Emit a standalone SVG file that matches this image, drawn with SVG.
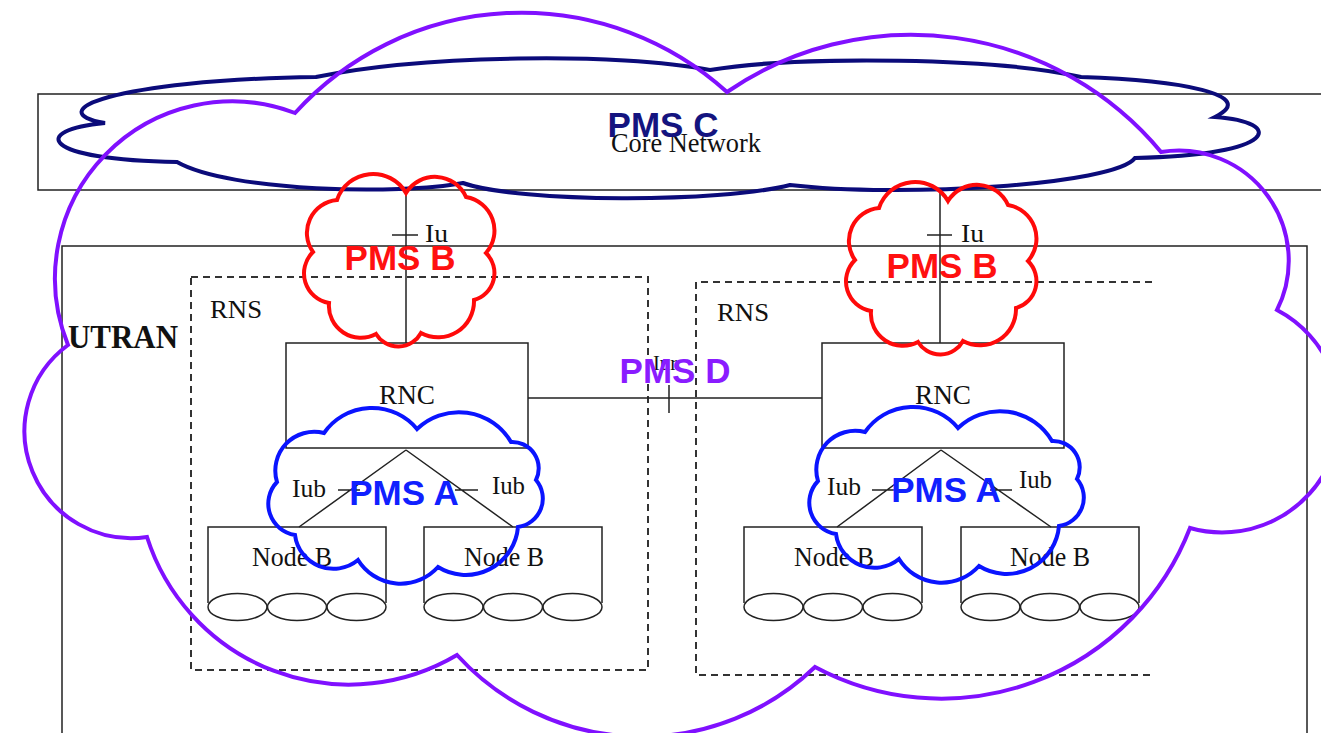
<svg xmlns="http://www.w3.org/2000/svg" width="1321" height="733" viewBox="0 0 1321 733">
<style>
.ln{fill:none;stroke:#222;stroke-width:1.5}
.dash{fill:none;stroke:#333;stroke-width:2;stroke-dasharray:7 5}
.lbl{font-family:"Liberation Serif","Times New Roman",serif;fill:#111}
.pms{font-family:"Liberation Sans",Arial,sans-serif;font-weight:bold;font-size:35px;text-anchor:middle}
.cloud{fill:none;stroke-width:4;stroke-linejoin:miter}
</style>
<defs>
<g id="nodeb">
<path class="ln" d="M0,76 V0 H178 V76"/>
<ellipse class="ln" cx="29.5" cy="80" rx="29.5" ry="13.5"/>
<ellipse class="ln" cx="89" cy="80" rx="29.5" ry="13.5"/>
<ellipse class="ln" cx="148.5" cy="80" rx="29.5" ry="13.5"/>
</g>
<path id="redcloud" class="cloud" d="M406,193 A34 34 0 0 1 466,197 A34 34 0 0 1 486,253 A28 28 0 0 1 474,300 A36 36 0 0 1 421,333 A26 26 0 0 1 376,334 A32 32 0 0 1 329,303 A30 30 0 0 1 313,252 A33 33 0 0 1 337,200 A38 38 0 0 1 406,193 Z"/>
<path id="bluecloud" class="cloud" d="M324,433 A58.5 58.5 0 0 1 417,429 A60.5 60.5 0 0 1 511,442 A26.4 26.4 0 0 1 536,480 A28.7 28.7 0 0 1 518,527 A52.5 52.5 0 0 1 438,567 A50.3 50.3 0 0 1 358,560 A38.7 38.7 0 0 1 295,535 A31.6 31.6 0 0 1 277,482 A38.9 38.9 0 0 1 324,433 Z"/>
</defs>

<g id="core-network">
<rect class="ln" x="38" y="94" width="1300" height="96"/>
<text class="lbl" x="686" y="152" font-size="28" text-anchor="middle" textLength="150" lengthAdjust="spacingAndGlyphs">Core Network</text>
</g>

<g id="utran">
<rect class="ln" x="62" y="246" width="1245" height="500"/>
<text class="lbl" x="68" y="348" font-size="33" font-weight="bold" textLength="110" lengthAdjust="spacingAndGlyphs">UTRAN</text>
</g>

<g id="rns-left">
<rect class="dash" x="191" y="277" width="457" height="393"/>
<text class="lbl" x="210" y="318" font-size="25" textLength="52" lengthAdjust="spacingAndGlyphs">RNS</text>
</g>
<g id="rns-right">
<path class="dash" d="M1152,282 H696 V675 H1152"/>
<text class="lbl" x="717" y="321" font-size="25" textLength="52" lengthAdjust="spacingAndGlyphs">RNS</text>
</g>

<g id="rnc-left">
<rect class="ln" x="286" y="343" width="242" height="105"/>
<text class="lbl" x="407" y="404" font-size="28" text-anchor="middle" textLength="56" lengthAdjust="spacingAndGlyphs">RNC</text>
</g>
<g id="rnc-right">
<rect class="ln" x="822" y="343" width="242" height="105"/>
<text class="lbl" x="943" y="404" font-size="28" text-anchor="middle" textLength="56" lengthAdjust="spacingAndGlyphs">RNC</text>
</g>

<g id="nodeb-1">
<use href="#nodeb" x="208" y="527"/>
<text class="lbl" x="292" y="566" font-size="27" text-anchor="middle" textLength="80" lengthAdjust="spacingAndGlyphs">Node B</text>
</g>
<g id="nodeb-2">
<use href="#nodeb" x="424" y="527"/>
<text class="lbl" x="504" y="566" font-size="27" text-anchor="middle" textLength="80" lengthAdjust="spacingAndGlyphs">Node B</text>
</g>
<g id="nodeb-3">
<use href="#nodeb" x="744" y="527"/>
<text class="lbl" x="834" y="566" font-size="27" text-anchor="middle" textLength="80" lengthAdjust="spacingAndGlyphs">Node B</text>
</g>
<g id="nodeb-4">
<use href="#nodeb" x="961" y="527"/>
<text class="lbl" x="1050" y="566" font-size="27" text-anchor="middle" textLength="80" lengthAdjust="spacingAndGlyphs">Node B</text>
</g>

<g id="connectors">
<path class="ln" d="M406,190 V343 M392,235 H418"/>
<path class="ln" d="M940,190 V343 M927,235 H952"/>
<path class="ln" d="M528,398 H822 M669,385 V413"/>
<path class="ln" d="M406,450 L299,527 M406,450 L513,527 M338,490 H360 M455,490 H478"/>
<path class="ln" d="M941,450 L837,527 M941,450 L1051,527 M872,490 H894 M990,490 H1012"/>
<text class="lbl" x="425" y="242" font-size="25" textLength="23" lengthAdjust="spacingAndGlyphs">Iu</text>
<text class="lbl" x="961" y="242" font-size="25" textLength="23" lengthAdjust="spacingAndGlyphs">Iu</text>
<text class="lbl" x="653" y="370" font-size="21" textLength="24" lengthAdjust="spacingAndGlyphs">Iur</text>
<text class="lbl" x="292" y="497" font-size="25" textLength="34" lengthAdjust="spacingAndGlyphs">Iub</text>
<text class="lbl" x="492" y="494" font-size="25" textLength="33" lengthAdjust="spacingAndGlyphs">Iub</text>
<text class="lbl" x="827" y="495" font-size="25" textLength="34" lengthAdjust="spacingAndGlyphs">Iub</text>
<text class="lbl" x="1019" y="488" font-size="25" textLength="33" lengthAdjust="spacingAndGlyphs">Iub</text>
</g>

<g id="pms-c">
<path class="cloud" stroke="#0b0b7a" d="M105,123 C40,112 110,80 316,77 C420,55 620,52 710,70 C800,55 1000,58 1081,77 C1180,80 1260,95 1215,117 C1285,122 1280,155 1135,158 C1115,185 900,198 790,185 C720,203 520,203 463,183 C400,195 230,192 177,162 C40,160 30,130 105,123 Z"/>
<text class="pms" x="663" y="137" fill="#14147f">PMS C</text>
</g>

<g id="pms-b-left">
<use href="#redcloud" stroke="#ff0a0a"/>
<text class="pms" x="400" y="270" fill="#ff1010">PMS B</text>
</g>
<g id="pms-b-right">
<use href="#redcloud" stroke="#ff0a0a" transform="translate(542,8)"/>
<text class="pms" x="942" y="278" fill="#ff1010">PMS B</text>
</g>

<g id="pms-a-left">
<use href="#bluecloud" stroke="#0a14ff"/>
<text class="pms" x="404" y="505" fill="#1020ff">PMS A</text>
</g>
<g id="pms-a-right">
<use href="#bluecloud" stroke="#0a14ff" transform="translate(541,-1)"/>
<text class="pms" x="946" y="502" fill="#1020ff">PMS A</text>
</g>

<g id="pms-d">
<path class="cloud" stroke="#8010ff" d="M295,113 A306 306 0 0 1 727,92 A325 325 0 0 1 1161,152 A110 110 0 0 1 1277,310 A118 118 0 0 1 1190,528 A267 267 0 0 1 815,667 A250 250 0 0 1 457,655 A212 212 0 0 1 147,537 A107 107 0 0 1 68,345 A177 177 0 0 1 295,113 Z"/>
<text class="pms" x="675" y="383" fill="#8a1cff">PMS D</text>
</g>
</svg>
